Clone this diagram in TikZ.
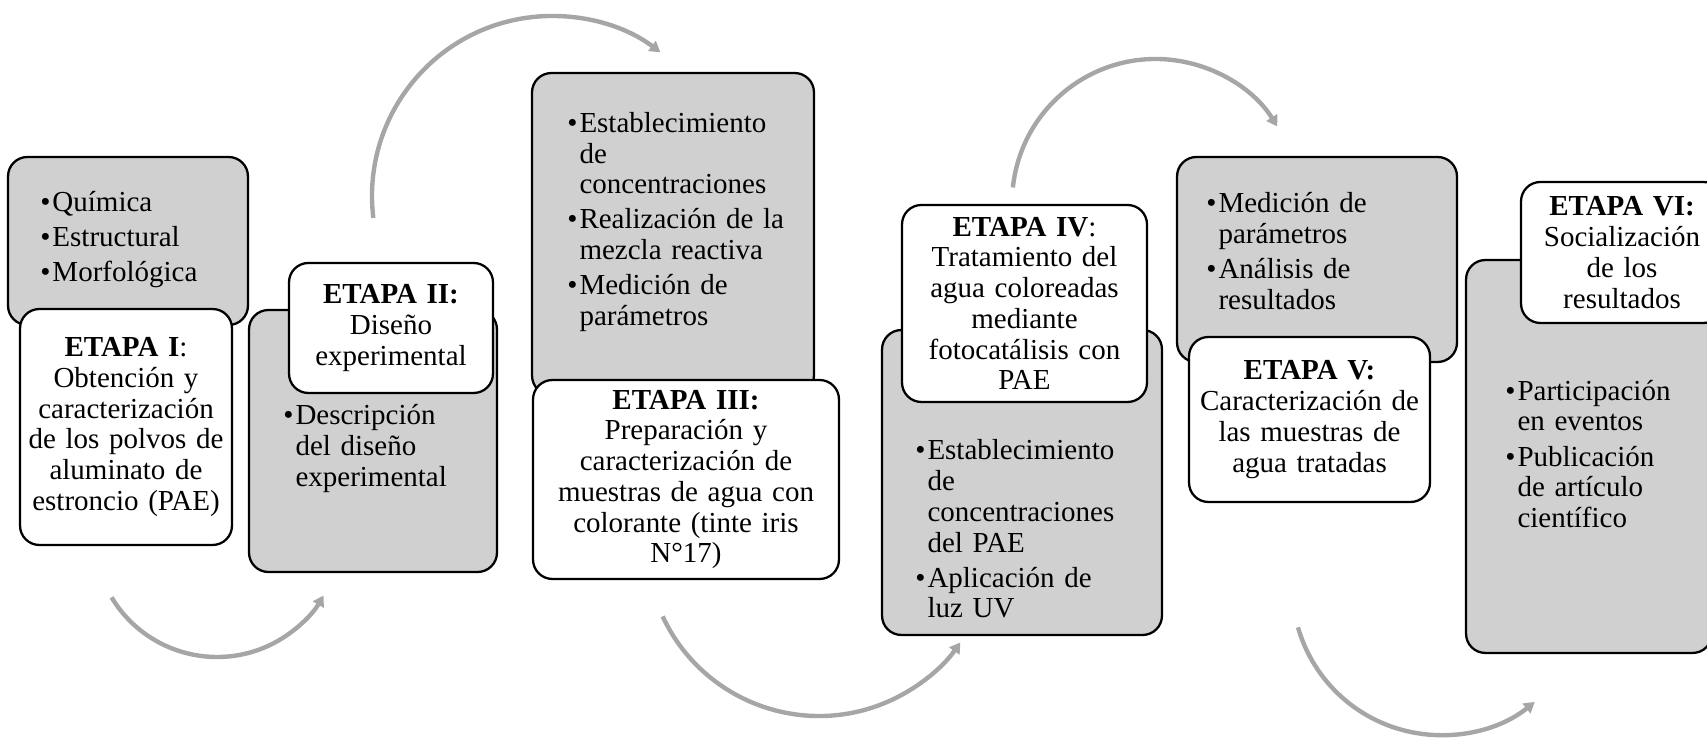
\documentclass[tikz,border=0pt]{standalone}
\usepackage{fontspec}
\setmainfont{Liberation Serif}
\usetikzlibrary{arrows.meta}

\definecolor{boxgray}{RGB}{208,208,208}
\definecolor{arcgray}{RGB}{166,166,166}
\newcommand{\bitem}[1]{\par\hangindent=0.42em\hangafter=1\noindent\makebox[0.42em][l]{\textbullet}#1\par}

\begin{document}
\begin{tikzpicture}[x=0.02cm, y=0.02cm]
\useasboundingbox (0,0) rectangle (1707,740);
\clip (0,0) rectangle (1707,740);

\begin{scope}[every node/.style={draw=black, line width=1.3pt, rounded corners=11pt, fill=boxgray}]
    \node (g1) at (128,499) [minimum width=4.8cm, minimum height=3.36cm] {};
    \node (g2) at (373,299) [minimum width=4.96cm, minimum height=5.24cm] {};
    \node (g3) at (673,506) [minimum width=5.64cm, minimum height=6.44cm] {};
    \node (g4) at (1022,257.5) [minimum width=5.6cm, minimum height=6.1cm] {};
    \node (g5) at (1317,480.5) [minimum width=5.6cm, minimum height=4.1cm] {};
    \node (g6) at (1589,283.5) [minimum width=4.92cm, minimum height=7.86cm] {};
\end{scope}

\begin{scope}[every node/.style={anchor=west, inner sep=0pt, text width=5cm, align=left,
              font=\fontsize{16.5}{17.5}\selectfont,
              execute at begin node={\setlength{\parskip}{2.5pt}}}]
    \node (l1) at (40,508) {\bitem{Química}\bitem{Estructural}\bitem{Morfológica}};
    \node (l2) at (283,299) {\bitem{Descripción\newline del diseño\newline experimental}};
    \node (l3) at (567,525.5) {\bitem{Establecimiento\newline de\newline concentraciones}\bitem{Realización de la\newline mezcla reactiva}\bitem{Medición de\newline parámetros}};
    \node (l4) at (915,218.5) {\bitem{Establecimiento\newline de\newline concentraciones\newline del PAE}\bitem{Aplicación de\newline luz UV}};
    \node (l5) at (1206,496.5) {\bitem{Medición de\newline parámetros}\bitem{Análisis de\newline resultados}};
    \node (l6) at (1505,293.5) {\bitem{Participación\newline en eventos}\bitem{Publicación\newline de artículo\newline científico}};
\end{scope}

\begin{scope}[every node/.style={draw=black, line width=1.3pt, rounded corners=11pt, fill=white,
              align=center, font=\fontsize{16.5}{17.5}\selectfont}]
    \node (w1) at (126,313) [minimum width=4.24cm, minimum height=4.72cm, text width=3.9cm]
        {\textbf{ETAPA I}:\\Obtención y\\caracterización\\de los polvos de\\aluminato de\\estroncio (PAE)};
    \node (w2) at (391,412) [minimum width=4.08cm, minimum height=2.6cm, text width=3.6cm]
        {\textbf{ETAPA II:}\\Diseño\\experimental};
    \node (w3) at (686,260.5) [minimum width=6.12cm, minimum height=3.98cm, text width=5.4cm]
        {\textbf{ETAPA III:}\\Preparación y\\caracterización de\\muestras de agua con\\colorante (tinte iris\\N°17)};
    \node (w4) at (1024.5,436.5) [minimum width=4.9cm, minimum height=3.94cm, text width=4.2cm]
        {\textbf{ETAPA IV}:\\Tratamiento del\\agua coloreadas\\mediante\\fotocatálisis con\\PAE};
    \node (w5) at (1309.5,320.5) [minimum width=4.82cm, minimum height=3.3cm, text width=4.5cm]
        {\textbf{ETAPA V:}\\Caracterización de\\las muestras de\\agua tratadas};
    \node (w6) at (1622,487.5) [minimum width=4.04cm, minimum height=2.82cm, text width=3.4cm]
        {\textbf{ETAPA VI:}\\Socialización\\de los\\resultados};
\end{scope}

\begin{scope}[>={Triangle[length=6pt, width=7pt]}, color=arcgray, line width=2.5pt]
    \coordinate (c1) at (217,206);
    \coordinate (c2) at (552,544);
    \coordinate (c3) at (819,196.5);
    \coordinate (c4) at (1155.6,537.5);
    \coordinate (c5) at (1441,153.7);

    \draw[->] ([shift={(211:123)}]c1) arc[start angle=211, end angle=330, radius=123];
    \draw[->] ([shift={(187:180)}]c2) arc[start angle=187, end angle=53, radius=180];
    \draw[->] ([shift={(205:172.5)}]c3) arc[start angle=205, end angle=325, radius=172.5];
    \draw[->] ([shift={(174:143.5)}]c4) arc[start angle=174, end angle=32, radius=143.5];
    \draw[->] ([shift={(196:148.8)}]c5) arc[start angle=196, end angle=309, radius=148.8];
\end{scope}
\end{tikzpicture}
\end{document}
